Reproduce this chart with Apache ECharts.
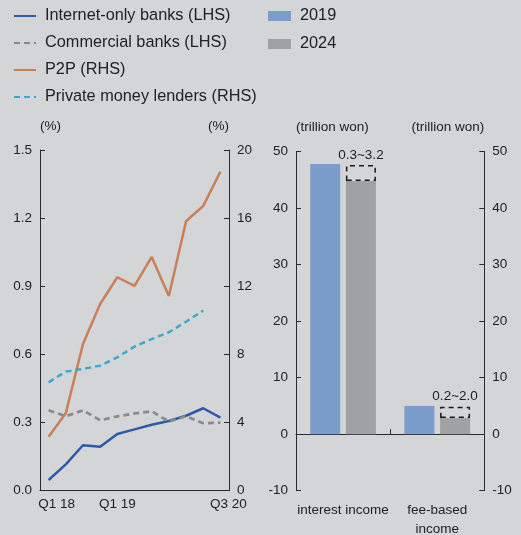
<!DOCTYPE html>
<html><head><meta charset="utf-8">
<script src="https://cdn.jsdelivr.net/npm/echarts@6/dist/echarts.min.js"></script>
<style>html,body{margin:0;padding:0;background:#d4d5d7}#c{width:521px;height:535px}</style>
</head><body><div id="c"></div>
<script>
const quarters = ['Q1 18','Q2 18','Q3 18','Q4 18','Q1 19','Q2 19','Q3 19','Q4 19','Q1 20','Q2 20','Q3 20'];
const quarterTickLabels = ['Q1 18','Q1 19','Q3 20'];
const internetOnlyBanks = [0.047,0.116,0.200,0.193,0.250,0.270,0.290,0.307,0.330,0.363,0.322];
const commercialBanks = [0.354,0.328,0.354,0.310,0.327,0.340,0.350,0.304,0.328,0.297,0.300];
const p2p = [3.17,4.54,8.61,10.96,12.53,12.02,13.72,11.43,15.82,16.72,18.73];
const privateLenders = [6.36,6.99,7.15,7.34,7.83,8.46,8.9,9.3,9.92,10.57,null];
const incomeCategories = ['interest income','fee-based\nincome'];
const income2019 = [47.8, 5.0];
const income2024 = [44.8, 2.85];
const changeRange = [2.8, 2.0];
const changeRangeLabels = ['0.3~3.2','0.2~2.0'];
const lineNames = ['Internet-only banks (LHS)','Commercial banks (LHS)','P2P (RHS)','Private money lenders (RHS)'];
const barNames = ['2019','2024'];

const FONT = '"Liberation Sans", Arial, sans-serif';
const AX = '#2a2a2a';
const TXT = '#222';
const FS = 13.5;
const chart = echarts.init(document.getElementById('c'));

function yAx(grid, pos, min, max, interval, dec, name, align) {
  return {
    type: 'value', gridIndex: grid, position: pos, min: min, max: max, interval: interval,
    name: name, nameLocation: 'end', nameGap: 17,
    nameTextStyle: {fontFamily: FONT, fontSize: FS, color: TXT, align: align},
    axisLine: {show: true, onZero: false, lineStyle: {color: AX, width: 1}},
    axisTick: {show: true, inside: true, length: 5, lineStyle: {color: AX}},
    splitLine: {show: false},
    axisLabel: {fontFamily: FONT, fontSize: FS, color: TXT, margin: 8,
      formatter: v => v.toFixed(dec)}
  };
}

const option = {
  backgroundColor: '#d4d5d7',
  animation: false,
  legend: [{
    data: lineNames, orient: 'vertical', left: 13, top: 8, padding: 0,
    itemWidth: 22, itemHeight: 14, itemGap: 11,
    itemStyle: {opacity: 0},
    textStyle: {fontFamily: FONT, fontSize: 16.3, color: TXT, padding: [0, 0, 0, 4]}
  }, {
    data: barNames, orient: 'vertical', left: 268, top: 8, padding: 0,
    itemWidth: 23, itemHeight: 10, itemGap: 12, icon: 'rect',
    textStyle: {fontFamily: FONT, fontSize: 16.3, color: TXT, padding: [0, 0, 0, 4]}
  }],
  grid: [
    {left: 40, width: 189, top: 150, height: 340.7, outerBoundsMode: 'none'},
    {left: 296, width: 188.3, top: 151.5, height: 339.2, outerBoundsMode: 'none'}
  ],
  xAxis: [{
    type: 'category', gridIndex: 0, data: quarters, boundaryGap: true,
    axisLine: {lineStyle: {color: AX}},
    axisTick: {inside: true, length: 5, interval: 0, lineStyle: {color: AX}},
    axisLabel: {interval: 0, margin: 7, fontFamily: FONT, fontSize: FS, color: TXT,
      formatter: function (v, i) {
        if (quarterTickLabels.indexOf(v) < 0) return '';
        if (i === 0 || i === quarters.length - 1) return '{s|' + v + '}';
        return v;
      },
      rich: {s: {fontFamily: FONT, fontSize: FS, color: TXT, padding: [0, 0, 0, 16]}}
    }
  }, {
    type: 'category', gridIndex: 1, data: incomeCategories, position: 'bottom',
    axisLine: {show: false, onZero: false}, axisTick: {show: false},
    axisLabel: {interval: 0, margin: 10, fontFamily: FONT, fontSize: FS, color: TXT, lineHeight: 19}
  }, {
    type: 'category', gridIndex: 1, data: incomeCategories, position: 'top',
    axisLine: {show: true, onZero: true, onZeroAxisIndex: 2, lineStyle: {color: AX}},
    axisTick: {show: true, inside: false, length: 5, interval: 0, lineStyle: {color: AX}},
    axisLabel: {show: false}
  }],
  yAxis: [
    yAx(0, 'left', 0, 1.5, 0.3, 1, '(%)', 'left'),
    yAx(0, 'right', 0, 20, 4, 0, '(%)', 'right'),
    yAx(1, 'left', -10, 50, 10, 0, '(trillion won)', 'left'),
    yAx(1, 'right', -10, 50, 10, 0, '(trillion won)', 'right')
  ],
  series: [
    {name: lineNames[0], type: 'line', xAxisIndex: 0, yAxisIndex: 0, data: internetOnlyBanks,
     symbol: 'none', lineStyle: {color: '#2b5ba8', width: 2.5}, itemStyle: {color: '#2b5ba8'}},
    {name: lineNames[1], type: 'line', xAxisIndex: 0, yAxisIndex: 0, data: commercialBanks,
     symbol: 'none', lineStyle: {color: '#8a8a8c', width: 2.7, type: [6, 4]}, itemStyle: {color: '#8a8a8c'}},
    {name: lineNames[2], type: 'line', xAxisIndex: 0, yAxisIndex: 1, data: p2p,
     symbol: 'none', lineStyle: {color: '#c97f58', width: 2.5}, itemStyle: {color: '#c97f58'}},
    {name: lineNames[3], type: 'line', xAxisIndex: 0, yAxisIndex: 1, data: privateLenders,
     symbol: 'none', lineStyle: {color: '#3aa9cf', width: 2.5, type: [6, 4]}, itemStyle: {color: '#3aa9cf'}},
    {name: barNames[0], type: 'bar', xAxisIndex: 1, yAxisIndex: 2, data: income2019,
     barWidth: 30, barGap: '19%', itemStyle: {color: '#7b9dcc'}},
    {name: barNames[1], type: 'bar', xAxisIndex: 1, yAxisIndex: 2, data: income2024, stack: 'b',
     barWidth: 30, barGap: '19%', itemStyle: {color: '#a0a1a4'}},
    {name: 'range', type: 'bar', xAxisIndex: 1, yAxisIndex: 2, data: changeRange, stack: 'b',
     barWidth: 30, barGap: '19%',
     itemStyle: {color: 'rgba(0,0,0,0)', borderColor: '#1a1a1a', borderWidth: 1.5, borderType: [5, 4]},
     label: {show: true, position: 'top', distance: 3, fontFamily: FONT, fontSize: FS, color: TXT,
       formatter: p => changeRangeLabels[p.dataIndex]}}
  ]
};
chart.setOption(option);
</script></body></html>
